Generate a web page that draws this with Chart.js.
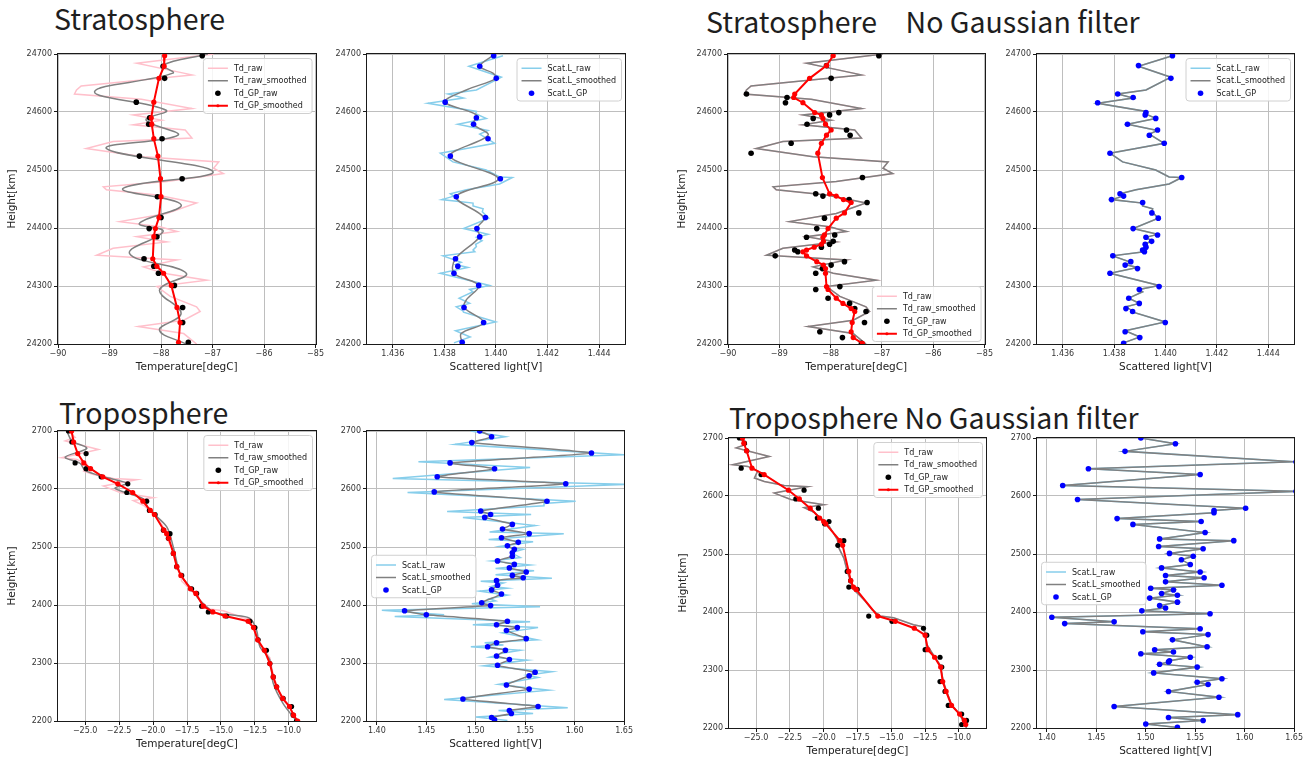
<!DOCTYPE html>
<html>
<head>
<meta charset="utf-8">
<script src="https://cdn.jsdelivr.net/npm/chart.js@4.4.1/dist/chart.umd.min.js"></script>
<style>
  body { margin: 0; background: #fff; width: 1314px; height: 763px; position: relative; overflow: hidden; }
  canvas { position: absolute; }
  .title { position: absolute; font-family: 'Noto Sans CJK JP', 'Noto Sans', sans-serif; font-size: 28.5px; color: #1e1e1e; white-space: pre; line-height: 1; }
</style>
</head>
<body>
<div class="title" style="left:54px; top:4px">Stratosphere</div>
<div class="title" style="left:706px; top:7px">Stratosphere　No Gaussian filter</div>
<div class="title" style="left:59px; top:398px">Troposphere</div>
<div class="title" style="left:729px; top:403px">Troposphere No Gaussian filter</div>

<canvas id="cA"></canvas>
<canvas id="cB"></canvas>
<canvas id="cC"></canvas>
<canvas id="cD"></canvas>
<canvas id="cE"></canvas>
<canvas id="cF"></canvas>
<canvas id="cG"></canvas>
<canvas id="cH"></canvas>

<script>
// ---------- stratosphere: raw profiles (pink / skyblue, and gray when unfiltered)
const strTdRawH = [24700, 24684, 24664, 24645, 24638, 24631, 24622, 24606, 24595, 24586, 24578, 24569, 24555, 24549, 24537,
  24523, 24514, 24503, 24494, 24480, 24471, 24466, 24457, 24443, 24425, 24411, 24402, 24394, 24385, 24376, 24365, 24353,
  24345, 24333, 24322, 24310, 24299, 24282, 24264, 24256, 24241, 24230, 24218, 24200];
const strTdRaw = [-86.98, -88.47, -87.40, -89.55, -89.64, -89.68, -88.38, -87.40, -88.54, -87.99, -88.54, -87.53, -87.40, -88.93, -89.45,
  -88.34, -86.88, -86.98, -86.79, -87.89, -89.12, -89.06, -88.08, -87.31, -87.89, -88.80, -88.02, -87.69, -88.47, -87.89, -88.93, -89.25,
  -87.69, -88.34, -87.95, -87.11, -88.08, -87.82, -87.31, -87.24, -87.56, -88.44, -87.56, -87.31];

const strScatRawH = [24697, 24679, 24660, 24638, 24631, 24624, 24615, 24601, 24597, 24589, 24579, 24568, 24562, 24546, 24537,
  24529, 24514, 24500, 24488, 24487, 24476, 24466, 24459, 24455, 24449, 24443, 24438, 24433, 24428, 24417, 24399, 24389, 24384,
  24378, 24372, 24368, 24362, 24359, 24352, 24341, 24337, 24332, 24322, 24301, 24294, 24290, 24279, 24270, 24264, 24257, 24255,
  24238, 24223, 24212, 24202];
const strScatRaw = [1.44027, 1.43895, 1.44021, 1.43924, 1.43814, 1.43874, 1.43736, 1.43924, 1.43921, 1.43962, 1.43852, 1.43969,
  1.43937, 1.43995, 1.43885, 1.43784, 1.43833, 1.43962, 1.44014, 1.44063, 1.44014, 1.43885, 1.43823, 1.43837, 1.43790, 1.43911,
  1.43911, 1.43950, 1.43947, 1.43972, 1.43874, 1.43969, 1.43924, 1.43946, 1.43921, 1.43924, 1.43911, 1.43918, 1.43795, 1.43865,
  1.43843, 1.43891, 1.43784, 1.43975, 1.43898, 1.43911, 1.43857, 1.43898, 1.43846, 1.43872, 1.43874, 1.43999, 1.43843, 1.43900,
  1.43837];

// stratosphere, gaussian filtered
const strTdSmH = [24700, 24681, 24667, 24635, 24603, 24586, 24560, 24537, 24497, 24468, 24440, 24408, 24394, 24356, 24322, 24293, 24253, 24224, 24200];
const strTdSm = [-87.09, -87.96, -87.77, -89.29, -87.90, -88.29, -87.67, -89.06, -86.99, -88.74, -87.61, -88.42, -87.96, -88.61, -87.51, -88.03, -87.61, -88.03, -87.51];
const strScatSmH = [24700, 24679, 24667, 24658, 24638, 24617, 24595, 24579, 24560, 24524, 24485, 24454, 24418, 24399, 24385, 24347, 24322, 24301, 24276, 24263, 24237, 24218, 24200];
const strScatSm = [1.43997, 1.43937, 1.43988, 1.44001, 1.43885, 1.43803, 1.43924, 1.43913, 1.43969, 1.43823, 1.44008, 1.43846, 1.43953, 1.43926, 1.43937, 1.43843, 1.43837, 1.43933, 1.43885, 1.43876, 1.43952, 1.43865, 1.43870];

const strGpH = [24697, 24679, 24658, 24617, 24590, 24579, 24554, 24524, 24485, 24454, 24418, 24399, 24385, 24347, 24334, 24322, 24301, 24263, 24237, 24203];
const strTdGp = [-87.20, -87.96, -87.93, -88.48, -88.22, -88.24, -87.98, -88.42, -87.59, -88.07, -88.00, -88.23, -88.08, -88.33, -88.14, -88.05, -87.74, -87.58, -87.58, -87.47];
const strTdGpSm = [-87.93, -87.94, -88.04, -88.14, -88.19, -88.18, -88.14, -88.06, -88.01, -88.00, -88.04, -88.11, -88.14, -88.16, -88.08, -87.95, -87.80, -87.69, -87.63, -87.66];
const strScatGp = [1.43991, 1.43937, 1.44001, 1.43803, 1.43924, 1.43913, 1.43969, 1.43823, 1.44017, 1.43846, 1.43959, 1.43926, 1.43937, 1.43843, 1.43852, 1.43837, 1.43933, 1.43876, 1.43952, 1.43869];

// stratosphere, no filter
const strGp2H = [24697, 24680, 24658, 24631, 24625, 24616, 24599, 24595, 24589, 24579, 24569, 24560, 24546, 24529, 24487, 24459,
  24455, 24449, 24444, 24426, 24417, 24399, 24388, 24384, 24377, 24372, 24367, 24362, 24359, 24352, 24342, 24336, 24330, 24322,
  24299, 24294, 24279, 24270, 24261, 24256, 24237, 24221, 24211, 24201];
const strTdGp2 = [-87.06, -88.08, -87.99, -89.64, -88.85, -88.88, -87.84, -88.02, -88.34, -88.46, -87.69, -87.62, -88.77, -89.55, -87.38, -88.29,
  -88.15, -87.64, -87.29, -87.45, -88.12, -88.27, -87.92, -88.47, -87.95, -88.02, -88.18, -88.70, -88.64, -89.08, -87.73, -87.99, -88.16, -88.29,
  -87.82, -88.29, -88.05, -87.63, -87.53, -87.31, -87.34, -88.21, -87.77, -87.40];
const strTdGpSm2 = [-87.95, -88.08, -88.41, -88.70, -88.72, -88.54, -88.31, -88.18, -88.15, -88.10, -87.99, -88.08, -88.18, -88.25, -88.16, -88.02,
  -87.89, -87.75, -87.60, -87.73, -87.89, -88.05, -88.12, -88.15, -88.14, -88.18, -88.32, -88.47, -88.54, -88.47, -88.27, -88.14, -88.10, -88.10,
  -88.08, -88.05, -87.89, -87.76, -87.60, -87.53, -87.58, -87.60, -87.56, -87.38];
const strScatGp2 = [1.44027, 1.43895, 1.44021, 1.43814, 1.43874, 1.43736, 1.43924, 1.43921, 1.43962, 1.43852, 1.43969, 1.43937, 1.43995, 1.43784,
  1.44063, 1.43823, 1.43837, 1.43790, 1.43911, 1.43947, 1.43972, 1.43874, 1.43969, 1.43924, 1.43946, 1.43921, 1.43924, 1.43911, 1.43918,
  1.43795, 1.43865, 1.43843, 1.43891, 1.43784, 1.43975, 1.43898, 1.43857, 1.43898, 1.43846, 1.43872, 1.43999, 1.43843, 1.43900, 1.43837];

// ---------- troposphere
const troTdRawH = [2700, 2689, 2683, 2668, 2654, 2651, 2643, 2631, 2625, 2618, 2616, 2605, 2594, 2585, 2580, 2572, 2562, 2553, 2539, 2525,
  2510, 2493, 2470, 2453, 2441, 2430, 2418, 2404, 2393, 2390, 2378, 2375, 2364, 2344, 2326, 2309, 2280, 2263, 2240, 2223, 2200];
const troTdRaw = [-26.23, -25.74, -26.47, -24.02, -26.72, -25.61, -24.88, -25.12, -24.39, -22.92, -21.20, -23.65, -22.43, -19.98, -21.45, -20.71,
  -20.22, -19.73, -19.36, -18.99, -18.87, -18.51, -18.26, -18.01, -17.89, -17.40, -16.91, -16.42, -15.81, -14.83, -13.36, -12.75, -12.50,
  -12.38, -11.89, -11.40, -11.15, -10.91, -10.54, -9.93, -9.44];

const troScatRawH = [2700, 2690, 2677, 2659, 2647, 2637, 2618, 2608, 2594, 2579, 2575, 2571, 2561, 2556, 2551, 2537, 2526, 2523, 2513, 2509,
  2501, 2496, 2490, 2482, 2476, 2469, 2463, 2459, 2452, 2446, 2441, 2438, 2432, 2429, 2424, 2417, 2411, 2407, 2402, 2397, 2391, 2383, 2380,
  2371, 2366, 2361, 2352, 2340, 2335, 2331, 2328, 2322, 2316, 2314, 2310, 2305, 2295, 2285, 2279, 2275, 2263, 2253, 2237, 2223, 2218, 2213,
  2207, 2201];
const troScatRaw = [1.495, 1.530, 1.479, 1.652, 1.442, 1.555, 1.416, 1.652, 1.431, 1.601, 1.569, 1.569, 1.471, 1.556, 1.487, 1.560, 1.514,
  1.589, 1.513, 1.558, 1.524, 1.548, 1.536, 1.545, 1.516, 1.555, 1.520, 1.559, 1.520, 1.577, 1.505, 1.528, 1.516, 1.532, 1.504, 1.532, 1.514,
  1.520, 1.496, 1.565, 1.405, 1.468, 1.418, 1.555, 1.497, 1.563, 1.527, 1.562, 1.509, 1.528, 1.495, 1.545, 1.524, 1.523, 1.514, 1.552, 1.508,
  1.577, 1.552, 1.563, 1.523, 1.574, 1.468, 1.593, 1.523, 1.558, 1.500, 1.532];

// troposphere, gaussian filtered
const troTdSmH = [2700, 2683, 2670, 2655, 2644, 2632, 2621, 2610, 2601, 2583, 2566, 2535, 2500, 2454, 2431, 2408, 2388, 2383, 2377, 2357, 2328, 2305, 2265, 2230, 2200];
const troTdSm = [-26.35, -25.98, -24.88, -26.47, -25.37, -25.00, -23.65, -21.93, -22.79, -20.71, -20.34, -19.00, -18.51, -18.01, -17.28, -16.54,
  -15.56, -14.34, -12.87, -12.38, -12.13, -11.40, -11.15, -10.42, -9.44];

const troGpH = [2700, 2681, 2661, 2645, 2635, 2621, 2609, 2594, 2579, 2563, 2556, 2529, 2523, 2515, 2489, 2466, 2451, 2428, 2420, 2398, 2388,
  2381, 2372, 2361, 2340, 2322, 2299, 2276, 2259, 2239, 2225, 2210, 2200];
const troTdGp = [-26.23, -25.98, -24.93, -25.74, -24.93, -23.82, -21.86, -21.93, -20.47, -20.27, -19.85, -19.24, -18.75, -18.87, -18.51, -18.26,
  -17.89, -17.16, -16.79, -16.42, -15.93, -14.58, -12.87, -12.50, -12.26, -11.65, -11.40, -11.15, -10.90, -10.42, -9.80, -9.68, -9.44];
const troTdGpSm = [-26.0, -25.85, -25.55, -25.1, -24.6, -23.7, -22.6, -21.5, -20.75, -20.2, -19.9, -19.2, -19.0, -18.85, -18.5, -18.25, -17.95,
  -17.25, -16.85, -16.3, -15.6, -14.7, -13.0, -12.6, -12.3, -11.8, -11.4, -11.15, -10.9, -10.45, -9.95, -9.65, -9.35];

const troScatGpH = [2700, 2690, 2680, 2662, 2645, 2635, 2621, 2609, 2595, 2579, 2562, 2556, 2551, 2539, 2531, 2523, 2516, 2508, 2502, 2496,
  2490, 2484, 2476, 2470, 2464, 2457, 2451, 2447, 2442, 2434, 2426, 2419, 2404, 2399, 2390, 2383, 2372, 2366, 2361, 2356, 2342, 2335, 2328,
  2322, 2312, 2306, 2296, 2284, 2278, 2262, 2255, 2238, 2225, 2218, 2213, 2206, 2202];
const troScatGp = [1.504, 1.516, 1.496, 1.617, 1.474, 1.519, 1.461, 1.591, 1.458, 1.572, 1.505, 1.515, 1.509, 1.537, 1.527, 1.554, 1.526, 1.543,
  1.532, 1.539, 1.537, 1.537, 1.522, 1.539, 1.534, 1.551, 1.537, 1.548, 1.521, 1.522, 1.516, 1.526, 1.506, 1.515, 1.428, 1.450, 1.532, 1.521,
  1.542, 1.531, 1.551, 1.521, 1.512, 1.530, 1.521, 1.534, 1.522, 1.560, 1.554, 1.531, 1.554, 1.487, 1.563, 1.534, 1.536, 1.516, 1.519];

// troposphere, no filter
const troGp2H = [2700, 2691, 2678, 2648, 2637, 2610, 2595, 2579, 2562, 2556, 2552, 2523, 2515, 2470, 2454, 2443, 2439, 2393, 2384, 2372, 2360,
  2335, 2322, 2305, 2280, 2263, 2239, 2224, 2213, 2206];
const troTdGp2 = [-26.23, -25.86, -25.69, -26.10, -24.63, -21.45, -22.06, -20.39, -20.47, -19.61, -19.93, -18.51, -18.95, -18.26, -18.01, -18.14,
  -17.52, -16.67, -14.95, -12.62, -12.38, -12.50, -11.40, -11.27, -11.40, -11.03, -10.79, -9.80, -9.44, -9.80];
const troTdGpSm2 = [-26.0, -25.9, -25.7, -25.3, -24.4, -22.6, -21.8, -21.0, -20.3, -20.0, -19.85, -18.8, -18.6, -18.15, -18.0, -17.8, -17.6,
  -16.0, -14.7, -13.3, -12.5, -12.3, -11.8, -11.35, -11.2, -10.95, -10.55, -9.95, -9.6, -9.5];

// ---------- axis ticks
const strHTicks = [24200, 24300, 24400, 24500, 24600, 24700];
const troHTicks = [2200, 2300, 2400, 2500, 2600, 2700];
const strTTicks = [-90, -89, -88, -87, -86, -85];
const strSTicks = [1.436, 1.438, 1.440, 1.442, 1.444];
const troTTicks = [-25, -22.5, -20, -17.5, -15, -12.5, -10];
const troSTicks = [1.40, 1.45, 1.50, 1.55, 1.60, 1.65];

const PINK = '#ffc0cb', GRAY = '#808080', SKY = '#87ceeb', RED = '#ff0000', BLUE = '#0000ff', BLACK = '#000000';
const GRID = '#bebebe';
const FONT = "'DejaVu Sans', sans-serif";

const pts = (xs, ys) => xs.map((x, i) => ({ x, y: ys[i] }));
const minus = s => s.replace('-', '\u2212');

const line = (label, data, color, w, order, tension = 0) => ({
  label, data, order, tension, showLine: true, borderColor: color, backgroundColor: color,
  borderWidth: w, pointRadius: 0, clip: 0
});
const dots = (label, data, color, r, order) => ({
  label, data, order, showLine: false, pointRadius: r, pointBackgroundColor: color,
  pointBorderColor: color, pointBorderWidth: 0, backgroundColor: color, borderColor: color, clip: 0
});
const lineDots = (label, data, color, w, r, order) => ({
  label, data, order, showLine: true, borderColor: color, backgroundColor: color, borderWidth: w,
  pointRadius: r, pointBackgroundColor: color, pointBorderColor: color, pointBorderWidth: 0, clip: 0
});

// top/right spines like matplotlib
const frame = {
  id: 'frame',
  afterDatasetsDraw(chart) {
    const { ctx, chartArea: a } = chart;
    ctx.save();
    ctx.strokeStyle = '#1a1a1a';
    ctx.lineWidth = 1;
    ctx.strokeRect(Math.round(a.left) - 0.5, Math.round(a.top) - 0.5, Math.round(a.right - a.left) + 1, Math.round(a.bottom - a.top) + 1);
    ctx.restore();
  }
};

// legend box drawn inside the axes
const boxLegend = {
  id: 'boxLegend',
  afterDraw(chart, args, opts) {
    const { ctx, chartArea: a } = chart;
    const items = chart.data.datasets;
    ctx.save();
    ctx.font = '8px ' + FONT;
    const rowH = 12.5, pad = 4, sw = 20, gap = 6;
    const tw = Math.max(...items.map(d => ctx.measureText(d.label).width));
    const w = pad + sw + gap + tw + pad + 2;
    const h = items.length * rowH + pad + 1;
    let x, y;
    if (opts.pos === 'ur') { x = a.right - w - 4; y = a.top + 4; }
    else if (opts.pos === 'lr') { x = a.right - w - 4; y = a.bottom - h - 3; }
    else { x = a.left + 4; y = (a.top + a.bottom) / 2 - h / 2; }
    ctx.beginPath();
    ctx.roundRect(x + 0.5, y + 0.5, w, h, 3);
    ctx.fillStyle = 'rgba(255,255,255,0.85)';
    ctx.fill();
    ctx.strokeStyle = '#d0d0d0';
    ctx.lineWidth = 1;
    ctx.stroke();
    items.forEach((d, i) => {
      const cy = y + pad + rowH * i + rowH / 2;
      const x0 = x + pad + 1;
      if (d.showLine) {
        ctx.beginPath();
        ctx.moveTo(x0, cy);
        ctx.lineTo(x0 + sw, cy);
        ctx.strokeStyle = d.borderColor;
        ctx.lineWidth = d.borderWidth;
        ctx.stroke();
      }
      if (d.pointRadius > 0) {
        ctx.beginPath();
        ctx.arc(x0 + sw / 2, cy, d.showLine ? 1.6 : 2.8, 0, Math.PI * 2);
        ctx.fillStyle = d.pointBackgroundColor;
        ctx.fill();
      }
      ctx.fillStyle = '#222';
      ctx.textBaseline = 'middle';
      ctx.fillText(d.label, x0 + sw + gap, cy + 0.5);
    });
    ctx.restore();
  }
};

const PL = 58, PT = 8, PR = 9, PB = 34;

function makeChart(id, rect, cfg) {
  const cv = document.getElementById(id);
  cv.width = rect.r - rect.l + PL + PR;
  cv.height = rect.b - rect.t + PT + PB;
  cv.style.left = (rect.l - PL) + 'px';
  cv.style.top = (rect.t - PT) + 'px';
  const axisBase = {
    type: 'linear',
    border: { display: false },
    grid: { color: GRID, lineWidth: 1, tickColor: '#1a1a1a', tickLength: 4 }
  };
  return new Chart(cv, {
    type: 'scatter',
    data: { datasets: cfg.datasets },
    options: {
      responsive: false,
      animation: false,
      events: [],
      layout: { padding: { top: PT, right: PR, left: 0, bottom: 0 } },
      plugins: { legend: { display: false }, tooltip: { enabled: false }, boxLegend: { pos: cfg.legendPos } },
      scales: {
        x: {
          ...axisBase,
          min: cfg.xMin, max: cfg.xMax,
          afterBuildTicks: s => { s.ticks = cfg.xTicks.map(v => ({ value: v })); },
          afterFit: s => { s.height = PB; },
          ticks: { font: { family: FONT, size: 8 }, color: '#333', padding: 1, maxRotation: 0, autoSkip: false, callback: cfg.xFmt },
          title: { display: true, text: cfg.xTitle, font: { family: FONT, size: 10.5 }, color: '#222', padding: { top: 0, bottom: 4 } }
        },
        y: {
          ...axisBase,
          min: cfg.yTicks[0], max: cfg.yTicks[cfg.yTicks.length - 1],
          afterBuildTicks: s => { s.ticks = cfg.yTicks.map(v => ({ value: v })); },
          afterFit: s => { s.width = PL; },
          ticks: { font: { family: FONT, size: 8 }, color: '#333', padding: 2, autoSkip: false, callback: v => String(v) },
          title: { display: !!cfg.yTitle, text: cfg.yTitle || '', font: { family: FONT, size: 10.5 }, color: '#222', padding: { top: 6, bottom: 0 } }
        }
      }
    },
    plugins: [frame, boxLegend]
  });
}

const fmtT0 = v => minus(String(v));
const fmtT1 = v => minus(v.toFixed(1));
const fmtS3 = v => v.toFixed(3);
const fmtS2 = v => v.toFixed(2);

// A: stratosphere temperature, gaussian
makeChart('cA', { l: 58, t: 54, r: 316, b: 344 }, {
  xMin: -90, xMax: -85, xTicks: strTTicks, xFmt: fmtT0, yTicks: strHTicks,
  xTitle: 'Temperature[degC]', yTitle: 'Height[km]', legendPos: 'ur',
  datasets: [
    line('Td_raw', pts(strTdRaw, strTdRawH), PINK, 1.5, 4),
    line('Td_raw_smoothed', pts(strTdSm, strTdSmH), GRAY, 1.5, 3, 0.4),
    dots('Td_GP_raw', pts(strTdGp, strGpH), BLACK, 2.8, 2),
    lineDots('Td_GP_smoothed', pts(strTdGpSm, strGpH), RED, 2, 2.6, 1)
  ]
});

// B: stratosphere scattered light, gaussian
makeChart('cB', { l: 367, t: 54, r: 625, b: 344 }, {
  xMin: 1.435, xMax: 1.445, xTicks: strSTicks, xFmt: fmtS3, yTicks: strHTicks,
  xTitle: 'Scattered light[V]', legendPos: 'ur',
  datasets: [
    line('Scat.L_raw', pts(strScatRaw, strScatRawH), SKY, 1.5, 3),
    line('Scat.L_smoothed', pts(strScatSm, strScatSmH), GRAY, 1.5, 2, 0.35),
    dots('Scat.L_GP', pts(strScatGp, strGpH), BLUE, 2.8, 1)
  ]
});

// C: stratosphere temperature, no filter
makeChart('cC', { l: 728, t: 54, r: 985, b: 344 }, {
  xMin: -90, xMax: -85, xTicks: strTTicks, xFmt: fmtT0, yTicks: strHTicks,
  xTitle: 'Temperature[degC]', yTitle: 'Height[km]', legendPos: 'lr',
  datasets: [
    line('Td_raw', pts(strTdRaw, strTdRawH), PINK, 1.5, 4),
    line('Td_raw_smoothed', pts(strTdRaw, strTdRawH), GRAY, 1.5, 3),
    dots('Td_GP_raw', pts(strTdGp2, strGp2H), BLACK, 2.8, 2),
    lineDots('Td_GP_smoothed', pts(strTdGpSm2, strGp2H), RED, 2, 2.6, 1)
  ]
});

// D: stratosphere scattered light, no filter
makeChart('cD', { l: 1037, t: 54, r: 1294, b: 344 }, {
  xMin: 1.435, xMax: 1.445, xTicks: strSTicks, xFmt: fmtS3, yTicks: strHTicks,
  xTitle: 'Scattered light[V]', legendPos: 'ur',
  datasets: [
    line('Scat.L_raw', pts(strScatRaw, strScatRawH), SKY, 1.5, 3),
    line('Scat.L_smoothed', pts(strScatRaw, strScatRawH), GRAY, 1.5, 2),
    dots('Scat.L_GP', pts(strScatGp2, strGp2H), BLUE, 2.8, 1)
  ]
});

// E: troposphere temperature, gaussian
makeChart('cE', { l: 58, t: 431, r: 316, b: 721 }, {
  xMin: -27, xMax: -8, xTicks: troTTicks, xFmt: fmtT1, yTicks: troHTicks,
  xTitle: 'Temperature[degC]', yTitle: 'Height[km]', legendPos: 'ur',
  datasets: [
    line('Td_raw', pts(troTdRaw, troTdRawH), PINK, 1.5, 4),
    line('Td_raw_smoothed', pts(troTdSm, troTdSmH), GRAY, 1.5, 3, 0.3),
    dots('Td_GP_raw', pts(troTdGp, troGpH), BLACK, 2.6, 2),
    lineDots('Td_GP_smoothed', pts(troTdGpSm, troGpH), RED, 2, 2.6, 1)
  ]
});

// F: troposphere scattered light, gaussian
makeChart('cF', { l: 367, t: 431, r: 625, b: 721 }, {
  xMin: 1.39, xMax: 1.65, xTicks: troSTicks, xFmt: fmtS2, yTicks: troHTicks,
  xTitle: 'Scattered light[V]', legendPos: 'cl',
  datasets: [
    line('Scat.L_raw', pts(troScatRaw, troScatRawH), SKY, 1.5, 3),
    line('Scat.L_smoothed', pts(troScatGp, troScatGpH), GRAY, 1.5, 2, 0.15),
    dots('Scat.L_GP', pts(troScatGp, troScatGpH), BLUE, 2.8, 1)
  ]
});

// G: troposphere temperature, no filter
makeChart('cG', { l: 729, t: 438, r: 986, b: 728 }, {
  xMin: -27, xMax: -8, xTicks: troTTicks, xFmt: fmtT1, yTicks: troHTicks,
  xTitle: 'Temperature[degC]', yTitle: 'Height[km]', legendPos: 'ur',
  datasets: [
    line('Td_raw', pts(troTdRaw, troTdRawH), PINK, 1.5, 4),
    line('Td_raw_smoothed', pts(troTdRaw, troTdRawH), GRAY, 1.5, 3),
    dots('Td_GP_raw', pts(troTdGp2, troGp2H), BLACK, 2.6, 2),
    lineDots('Td_GP_smoothed', pts(troTdGpSm2, troGp2H), RED, 2, 2.6, 1)
  ]
});

// H: troposphere scattered light, no filter
makeChart('cH', { l: 1037, t: 438, r: 1295, b: 728 }, {
  xMin: 1.39, xMax: 1.65, xTicks: troSTicks, xFmt: fmtS2, yTicks: troHTicks,
  xTitle: 'Scattered light[V]', legendPos: 'cl',
  datasets: [
    line('Scat.L_raw', pts(troScatRaw, troScatRawH), SKY, 1.5, 3),
    line('Scat.L_smoothed', pts(troScatRaw, troScatRawH), GRAY, 1.5, 2),
    dots('Scat.L_GP', pts(troScatRaw, troScatRawH), BLUE, 2.8, 1)
  ]
});
</script>
</body>
</html>
